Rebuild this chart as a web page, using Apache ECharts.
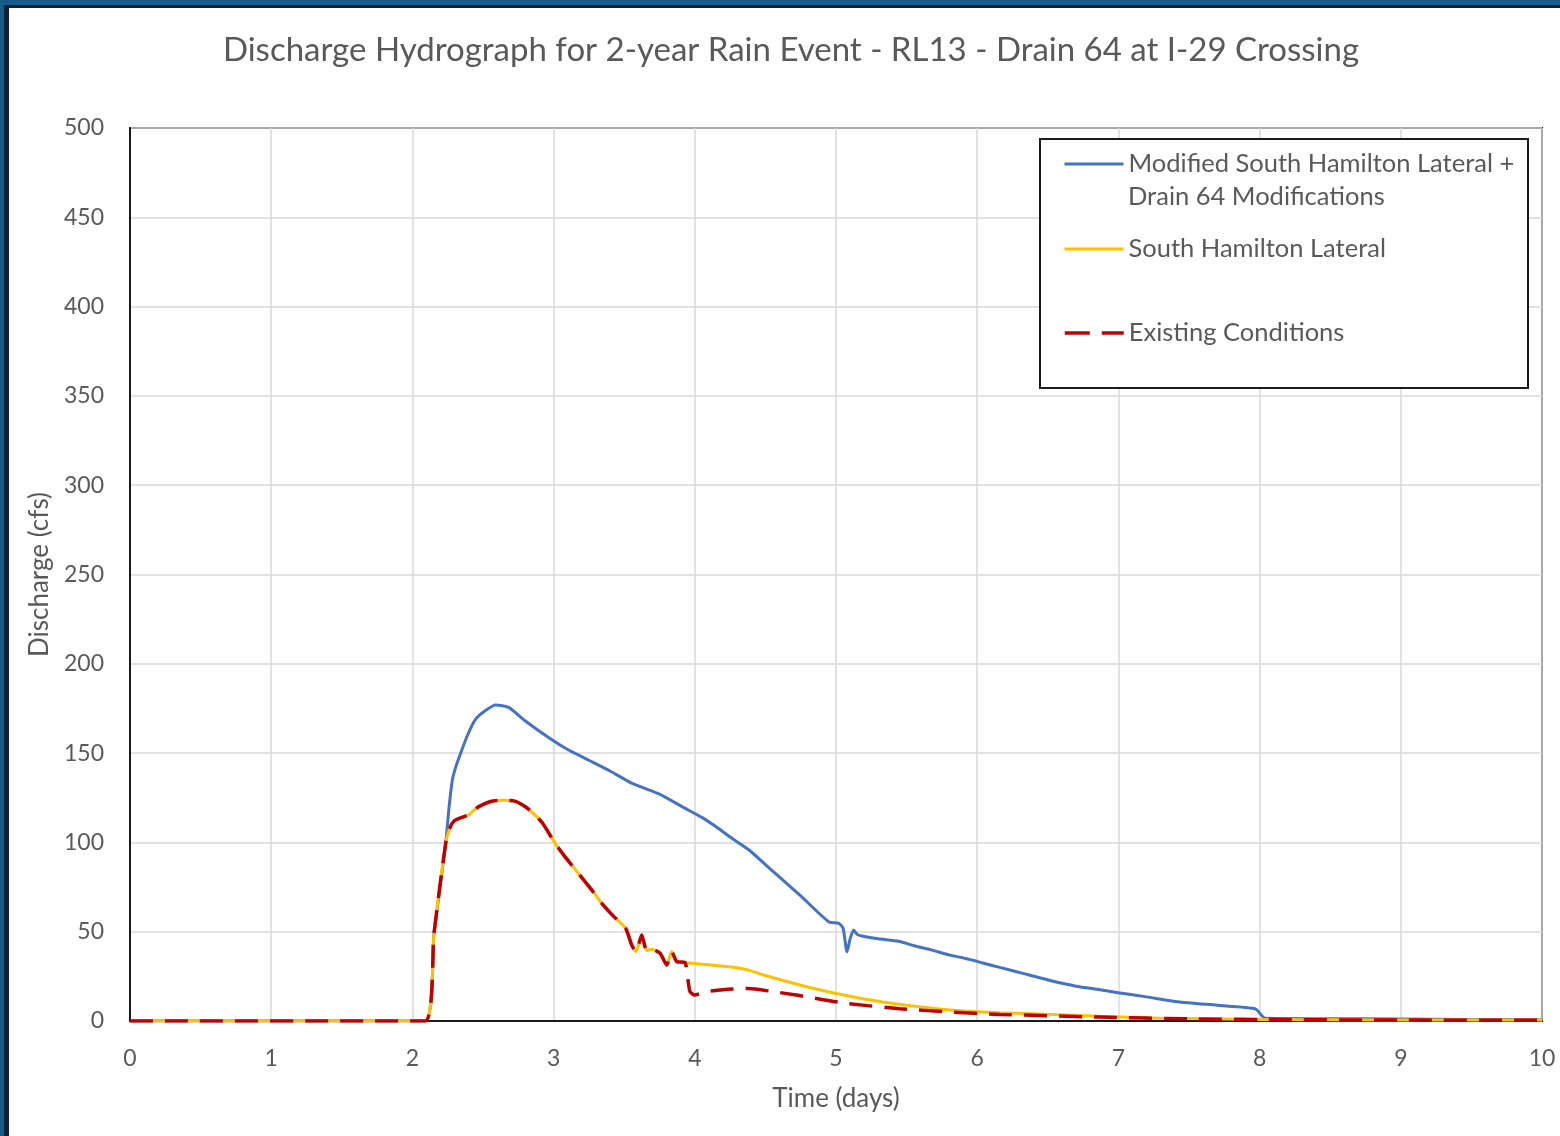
<!DOCTYPE html>
<html>
<head>
<meta charset="utf-8">
<script src="https://cdn.jsdelivr.net/npm/echarts@6/dist/echarts.min.js"></script>
<style>
html,body{margin:0;padding:0;background:#fff;}
#chart{position:absolute;left:0;top:0;width:1560px;height:1136px;background:#fff;}
.fr{position:absolute;pointer-events:none;}
</style>
</head>
<body>
<div id="chart"></div>
<div class="fr" style="left:0;top:0;width:1560px;height:5px;background:#165b8b;"></div>
<div class="fr" style="left:0;top:5px;width:1560px;height:3px;background:#0c2437;"></div>
<div class="fr" style="left:0;top:0;width:4px;height:1136px;background:#165b8b;"></div>
<div class="fr" style="left:4px;top:5px;width:5px;height:1131px;background:#0c2437;"></div>
<script>
const titleText = 'Discharge Hydrograph for 2-year Rain Event - RL13 - Drain 64 at I-29 Crossing';
const xAxisName = 'Time (days)';
const yAxisName = 'Discharge (cfs)';
const seriesNames = ['Modified South Hamilton Lateral + Drain 64 Modifications', 'South Hamilton Lateral', 'Existing Conditions'];
const legendLine1 = 'Modified South Hamilton Lateral +';
const legendLine2 = 'Drain 64 Modifications';

// Modified South Hamilton Lateral + Drain 64 Modifications
const modTime = [0, 2.09, 2.153, 2.236, 2.26, 2.283, 2.31, 2.342, 2.39, 2.448, 2.52, 2.59, 2.684, 2.8, 2.967, 3.1, 3.25, 3.4, 3.557, 3.75, 3.91, 4.05, 4.146, 4.25, 4.38, 4.55, 4.75, 4.948, 5.02, 5.05, 5.078, 5.1, 5.125, 5.15, 5.184, 5.3, 5.443, 5.56, 5.68, 5.8, 5.92, 6.04, 6.16, 6.33, 6.51, 6.7, 6.87, 7.0, 7.2, 7.42, 7.7, 7.97, 8.04, 8.5, 9.0, 9.5, 10];
const modFlow = [0, 0, 49, 99.6, 120, 135, 143, 150, 160, 169, 174, 177, 175.5, 168, 158.6, 152, 146, 140, 133, 127, 120, 114, 109, 103, 96, 84, 70, 55.6, 54.7, 52, 38.8, 46, 51, 48.5, 47.6, 46, 44.6, 42, 39.7, 37, 35, 32.5, 30, 26.5, 22.8, 19.5, 17.5, 15.8, 13.5, 10.8, 8.8, 6.8, 1.5, 1.3, 1.1, 0.9, 0.7];

// South Hamilton Lateral
const shlTime = [0, 2.09, 2.153, 2.236, 2.265, 2.295, 2.35, 2.40, 2.45, 2.495, 2.56, 2.637, 2.73, 2.80, 2.86, 2.92, 3.01, 3.08, 3.156, 3.27, 3.34, 3.415, 3.51, 3.553, 3.584, 3.624, 3.659, 3.695, 3.754, 3.801, 3.836, 3.872, 3.931, 4.1, 4.26, 4.38, 4.5, 4.62, 4.8, 5.0, 5.2, 5.33, 5.56, 5.75, 5.92, 6.16, 6.39, 6.87, 7.3, 8.0, 9.0, 10];
const shlFlow = [0, 0, 49, 99.6, 108, 112, 114, 115.5, 119, 121, 123, 123.6, 123, 120, 116, 111, 99.6, 92, 84.6, 73.4, 66, 59.4, 51.9, 42.6, 38.8, 48.2, 39.4, 40.2, 37.9, 31.4, 38.9, 33.3, 32.7, 31.5, 30.2, 28.5, 25.5, 22.8, 19, 15.4, 12.3, 10.7, 8.2, 6.6, 5.6, 4.6, 4.0, 2.6, 1.6, 0.9, 0.6, 0.5];

// Existing Conditions
const exTime = [0, 2.09, 2.153, 2.236, 2.265, 2.295, 2.35, 2.40, 2.45, 2.495, 2.56, 2.637, 2.73, 2.80, 2.86, 2.92, 3.01, 3.08, 3.156, 3.27, 3.34, 3.415, 3.51, 3.553, 3.584, 3.624, 3.659, 3.695, 3.754, 3.801, 3.836, 3.872, 3.931, 3.947, 3.966, 4.0, 4.07, 4.2, 4.38, 4.55, 4.73, 4.9, 5.09, 5.45, 5.8, 6.16, 6.87, 7.5, 8.0, 9.0, 10];
const exFlow = [0, 0, 49, 99.6, 108, 112, 114, 115.5, 119, 121, 123, 123.6, 123, 120, 116, 111, 99.6, 92, 84.6, 73.4, 66, 59.4, 51.9, 42.6, 38.8, 48.2, 39.4, 40.2, 37.9, 31.4, 38.9, 33.3, 32.7, 25.8, 16.4, 14.6, 16.3, 17.5, 18.2, 16.5, 14.4, 12, 9.7, 6.9, 5.1, 3.7, 2.2, 1.2, 0.8, 0.5, 0.4];

const xTicks = [0, 1, 2, 3, 4, 5, 6, 7, 8, 9, 10];
const yTicks = [0, 50, 100, 150, 200, 250, 300, 350, 400, 450, 500];

const zip = (a, b) => a.map((t, i) => [t, b[i]]);
const FONT = 'Lato';
const TXT = '#595959';
const COLORS = ['#4472c4', '#ffc000', '#c00000'];
const RED_DASH = [23, 12];

const chart = echarts.init(document.getElementById('chart'), null, {renderer: 'canvas'});
const legendCommon = {
  orient: 'horizontal', padding: 0, itemWidth: 59, itemHeight: 20, selectedMode: false,
  itemStyle: {opacity: 0},
  textStyle: {color: TXT, fontSize: 25.5, fontFamily: FONT, lineHeight: 20}
};
chart.setOption({
  animation: false,
  backgroundColor: '#fff',
  title: {
    text: titleText, left: 786, top: 29, textAlign: 'center',
    textStyle: {color: TXT, fontSize: 33, fontWeight: 'normal', fontFamily: FONT}
  },
  grid: {left: 130, right: 18, top: 128, bottom: 115, show: true, borderColor: '#1a1a1a', borderWidth: 2, backgroundColor: 'transparent'},
  xAxis: {
    type: 'value', min: xTicks[0], max: xTicks[xTicks.length - 1], interval: 1,
    name: xAxisName, nameLocation: 'middle', nameGap: 65,
    nameTextStyle: {color: TXT, fontSize: 26, fontFamily: FONT},
    axisLine: {show: true, lineStyle: {color: '#1a1a1a', width: 2}},
    axisTick: {show: false},
    axisLabel: {color: TXT, fontSize: 23, fontFamily: FONT, margin: 26},
    splitLine: {show: true, lineStyle: {color: '#d9d9d9', width: 1.5}}
  },
  yAxis: {
    type: 'value', min: yTicks[0], max: yTicks[yTicks.length - 1], interval: 50,
    name: yAxisName, nameLocation: 'middle', nameGap: 76, nameRotate: 90,
    nameTextStyle: {color: TXT, fontSize: 26, fontFamily: FONT},
    axisLine: {show: true, lineStyle: {color: '#1a1a1a', width: 2}},
    axisTick: {show: false},
    axisLabel: {color: TXT, fontSize: 23, fontFamily: FONT, margin: 26},
    splitLine: {show: true, lineStyle: {color: '#d9d9d9', width: 1.5}}
  },
  legend: [
    Object.assign({}, legendCommon, {left: 1063, top: 151, data: [seriesNames[0]], formatter: () => legendLine1,
      lineStyle: {color: COLORS[0], width: 3, type: 'solid'}}),
    Object.assign({}, legendCommon, {left: 1063, top: 236, data: [seriesNames[1]],
      lineStyle: {color: COLORS[1], width: 3, type: 'solid'}}),
    Object.assign({}, legendCommon, {left: 1063, top: 320, data: [seriesNames[2]],
      lineStyle: {color: COLORS[2], width: 3.5, type: [25, 12]}})
  ],
  graphic: [
    {type: 'rect', z: 3, shape: {x: 1040, y: 139, width: 488, height: 249}, style: {fill: '#fff', stroke: '#1a1a1a', lineWidth: 2}},
    {type: 'text', z: 5, x: 1128, y: 197, style: {text: legendLine2, fill: TXT, fontSize: 25.5, fontFamily: FONT, verticalAlign: 'middle', align: 'left'}}
  ],
  series: [
    {name: seriesNames[0], type: 'line', data: zip(modTime, modFlow), symbol: 'none', smooth: 0.2, z: 2,
     lineStyle: {color: COLORS[0], width: 3}, itemStyle: {color: COLORS[0]}},
    {name: seriesNames[1], type: 'line', data: zip(shlTime, shlFlow), symbol: 'none', smooth: 0.2, z: 3,
     lineStyle: {color: COLORS[1], width: 3}, itemStyle: {color: COLORS[1]}},
    {name: seriesNames[2], type: 'line', data: zip(exTime, exFlow), symbol: 'none', smooth: 0.2, z: 4,
     lineStyle: {color: COLORS[2], width: 3.5, type: RED_DASH}, itemStyle: {color: COLORS[2]}}
  ]
});
</script>
</body>
</html>
